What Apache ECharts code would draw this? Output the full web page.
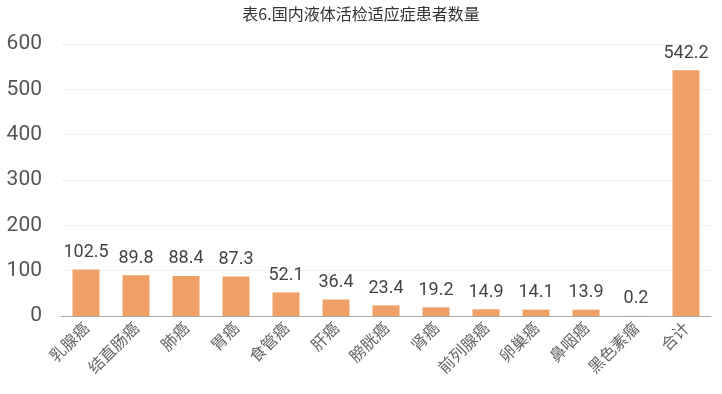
<!DOCTYPE html>
<html><head><meta charset="utf-8">
<script src="https://cdn.jsdelivr.net/npm/echarts@6/dist/echarts.min.js"></script>
<style>html,body{margin:0;padding:0;background:#fff;}#c{width:722px;height:394px;}</style>
</head><body><div id="c"></div>
<script>
const categories = ['乳腺癌','结直肠癌','肺癌','胃癌','食管癌','肝癌','膀胱癌','肾癌','前列腺癌','卵巢癌','鼻咽癌','黑色素瘤','合计'];
const values = [102.5, 89.8, 88.4, 87.3, 52.1, 36.4, 23.4, 19.2, 14.9, 14.1, 13.9, 0.2, 542.2];
const yTicks = [0, 100, 200, 300, 400, 500, 600];
const chart = echarts.init(document.getElementById('c'));
chart.setOption({
  animation: false,
  title: {text: '表6.国内液体活检适应症患者数量', left: 'center', top: 1,
    textStyle: {fontSize: 16, fontWeight: 'normal', color: '#333', fontFamily: 'Noto Sans CJK SC'}},
  grid: {left: 61, right: 11, top: 44, bottom: 78},
  xAxis: {type: 'category', data: categories,
    axisLine: {lineStyle: {color: '#aaa'}}, axisTick: {show: false},
    axisLabel: {rotate: 45, fontSize: 16, color: '#666', interval: 0, margin: 9, fontFamily: 'Noto Sans CJK SC'}},
  yAxis: {type: 'value', min: yTicks[0], max: yTicks[yTicks.length-1], interval: 100,
    axisLine: {show: false}, axisTick: {show: false},
    splitLine: {lineStyle: {color: '#f0f0f0'}},
    axisLabel: {fontSize: 21, color: '#555', margin: 19, fontFamily: 'Roboto'}},
  series: [{type: 'bar', data: values, barWidth: 27,
    itemStyle: {color: '#EFA066'},
    label: {show: true, position: 'top', distance: 8, fontSize: 18, color: '#444', fontFamily: 'Roboto'}}]
});
</script></body></html>
